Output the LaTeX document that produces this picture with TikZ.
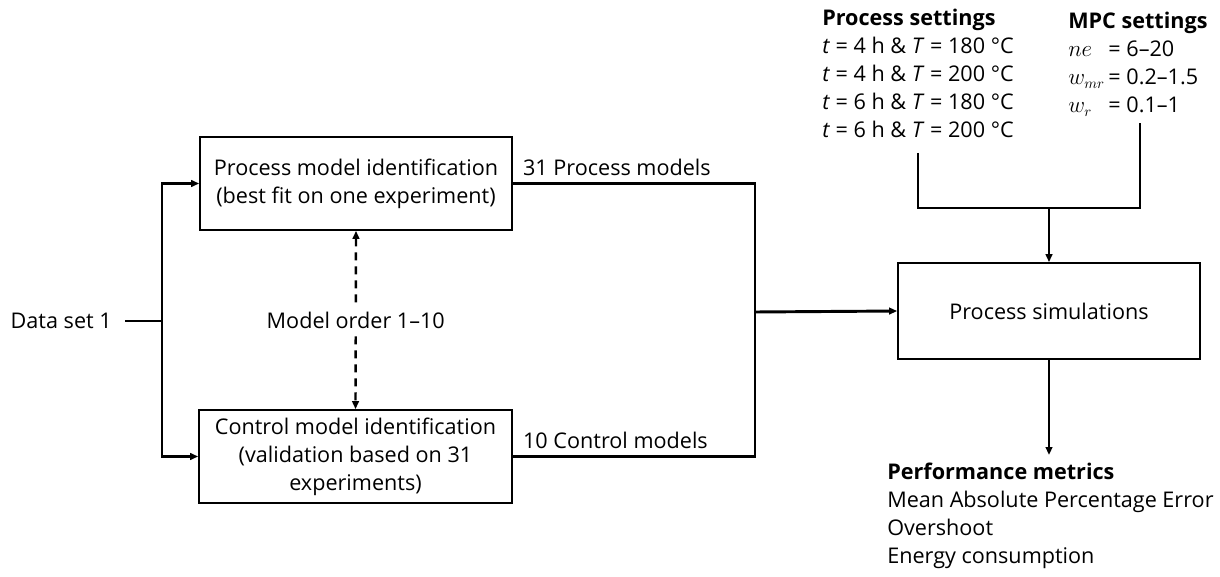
\documentclass[tikz,border=0pt]{standalone}
\usepackage{amsmath}
\usepackage{fontspec}
\setmainfont{Open Sans}
\usetikzlibrary{positioning,arrows.meta,calc}

\begin{document}
\begin{tikzpicture}[x=0.75pt,y=-0.75pt,
  font=\fontsize{16.2}{21}\selectfont,
  block/.style={draw,line width=1.3pt,align=center,inner sep=0pt},
  link/.style={line width=2.2pt},
  tip/.style={link,-{Triangle[length=6pt,width=5pt]}}]
\useasboundingbox (0,0) rectangle (1220,577);
\node[anchor=east,inner sep=0pt,inner xsep=9.75pt] (data) at (125,321) {Data set 1};
\coordinate (split) at (162,321);
\node[block,minimum width=234pt,minimum height=69.75pt] (pmi) at (356,183.5) {Process model identification\\(best fit on one experiment)};
\node[block,minimum width=234.75pt,minimum height=69.75pt] (cmi) at (355.5,456.5) {Control model identification\\(validation based on 31\\experiments)};
\node[block,minimum width=226.5pt,minimum height=72pt] (sim) at (1049,311) {Process simulations};
\draw[link] (data.east) -- (split);
\draw[tip] (split) |- (pmi.west);
\draw[tip] (split) |- (cmi.west);
\draw[line width=1.8pt,dash pattern=on 6pt off 4.5pt,{Triangle[length=6pt,width=5pt]}-{Triangle[length=6pt,width=5pt]}] (pmi.south) -- (cmi.north) node[midway,fill=white,inner sep=3pt] (order) {Model order 1--10};
\coordinate (join) at (755,312);
\draw[link] (pmi.east) -| (join);
\draw[link] (cmi.east) -| (join);
\draw[tip] (join) -- (sim.west);
\node[above right=6pt and 7.5pt of pmi.east,inner sep=0pt] (pmiout) {31 Process models};
\node[above right=6pt and 7.5pt of cmi.east,inner sep=0pt] (cmiout) {10 Control models};
\node[anchor=north west,align=left,inner sep=0pt] (procset) at (822,9) {\textbf{Process settings}\\
  \textit{t} = 4 h \& \textit{T} = 180 °C\\
  \textit{t} = 4 h \& \textit{T} = 200 °C\\
  \textit{t} = 6 h \& \textit{T} = 180 °C\\
  \textit{t} = 6 h \& \textit{T} = 200 °C};
\node[anchor=north west,inner sep=0pt] (mpcset) at (1068,9) {\begin{tabular}{@{}l@{\,}l@{}}
  \multicolumn{2}{@{}l@{}}{\textbf{MPC settings}}\\
  $ne$ & = 6--20\\
  $w_{mr}$ & = 0.2--1.5\\
  $w_r$ & = 0.1--1
  \end{tabular}};
\coordinate (pstail) at (918,153);
\coordinate (mpctail) at (1140,123);
\coordinate (hub) at (1049,208);
\draw[link] (pstail) |- (hub) -| (mpctail);
\draw[tip] (hub) -- (sim.north);
\node[anchor=north west,align=left,inner sep=0pt,inner ysep=6pt] (perf) at (887,455) {\textbf{Performance metrics}\\
  Mean Absolute Percentage Error\\
  Overshoot\\
  Energy consumption};
\draw[tip] (sim.south) -- (sim.south |- perf.north);
\end{tikzpicture}
\end{document}
